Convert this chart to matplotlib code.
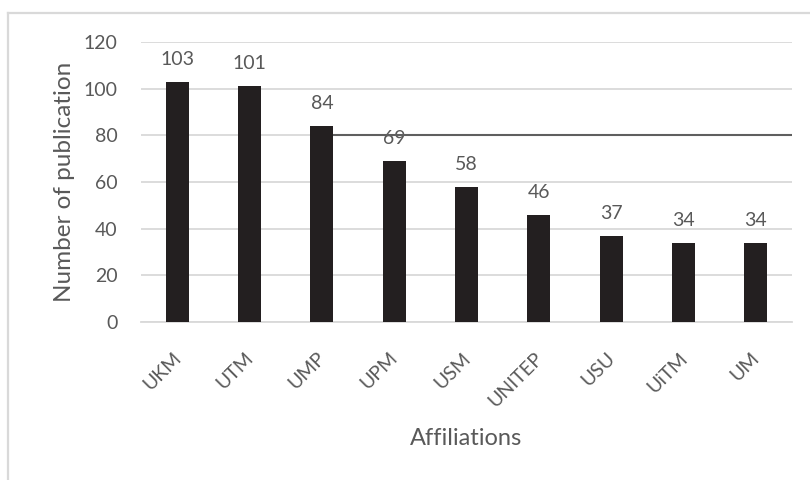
import matplotlib
matplotlib.use("Agg")
import matplotlib.pyplot as plt
from matplotlib.lines import Line2D
from matplotlib.transforms import ScaledTranslation

plt.rcParams['font.family'] = ['Lato', 'DejaVu Sans']

affiliations = ['UKM', 'UTM', 'UMP', 'UPM', 'USM', 'UNITEP', 'USU', 'UiTM', 'UM']
publications = [103, 101, 84, 69, 58, 46, 37, 34, 34]
y_ticks = [0, 20, 40, 60, 80, 100, 120]
ref_line = 80

text_col = '#595959'
grid_col = '#d9d9d9'
bar_col = '#231f20'
bar_w = 0.32

fig = plt.figure(figsize=(8.1, 4.8), dpi=100)
ax = fig.add_axes([141 / 810, 1 - 322 / 480, (792 - 141) / 810, (322 - 42) / 480])

x = range(len(affiliations))
bars = ax.bar(x, publications, width=bar_w, color=bar_col, zorder=3)

for xi, v in zip(x, publications):
    ax.annotate(str(v), (xi, v), xytext=(0, 10), textcoords='offset points',
                ha='center', va='bottom', fontsize=14, color=text_col)

# dark reference line drawn across from the UMP bar
ax.hlines(ref_line, 2 + bar_w / 2, len(affiliations) - 0.5, color='#5f5f5f',
          linewidth=1.5, zorder=4)

ax.set_xlim(-0.5, len(affiliations) - 0.5)
ax.set_ylim(0, 120)
ax.set_yticks(y_ticks)
ax.yaxis.grid(True, color=grid_col, linewidth=1.3, zorder=0)
ax.set_axisbelow(True)
for s in ['top', 'right', 'left']:
    ax.spines[s].set_visible(False)
ax.spines['bottom'].set_color(grid_col)
ax.spines['bottom'].set_linewidth(1.3)
ax.tick_params(length=0, colors=text_col, labelsize=14)
ax.tick_params(axis='y', pad=17)
ax.tick_params(axis='x', pad=24)
ax.set_xticks(list(x))
ax.set_xticklabels(affiliations, rotation=45, ha='right', va='center',
                   rotation_mode='anchor')
shift = ScaledTranslation(1 / 100, 0, fig.dpi_scale_trans)
for lbl in ax.get_xticklabels():
    lbl.set_transform(lbl.get_transform() + shift)

ax.set_ylabel('Number of publication', fontsize=17.5, color=text_col, labelpad=6)
ax.set_xlabel('Affiliations', fontsize=17, color=text_col)
ax.xaxis.set_label_coords(0.5, -0.38)

# chart frame
fig.add_artist(Line2D([7.5 / 810, 1], [1 - 12.5 / 480, 1 - 12.5 / 480],
                      color=grid_col, linewidth=1.6))
fig.add_artist(Line2D([7.5 / 810, 7.5 / 810], [0, 1 - 12.5 / 480],
                      color=grid_col, linewidth=1.6))

fig.savefig('out.png', dpi=100)
